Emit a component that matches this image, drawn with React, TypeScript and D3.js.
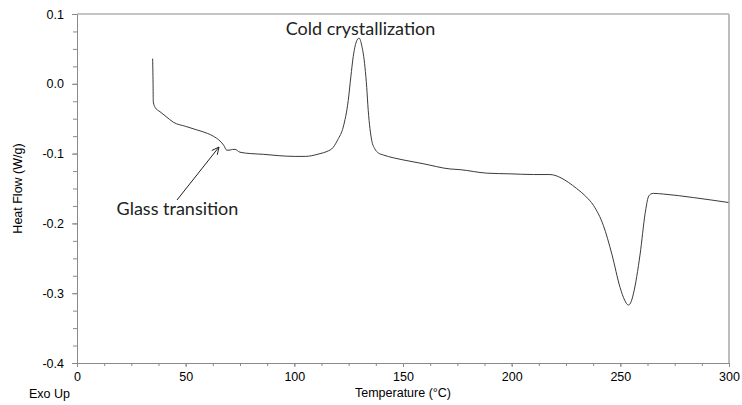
import React, { useEffect, useRef } from 'react';
import * as d3 from 'd3';

// DSC trace (temperature in °C, heat flow in W/g)
const temperature = [
  34.8, 35.0, 35.1, 36.0, 38.2, 41.0, 44.3, 50, 55.1, 60, 62.7, 65.8, 67.5, 68.9,
  70.4, 71.5, 72.7, 75.0, 80, 85.7, 93, 100, 105, 108, 111.8, 115, 117.9, 120,
  122.5, 124.8, 126, 127.1, 128.5, 129.8, 131, 132.5, 133.3, 134.0, 135.6, 137,
  138.6, 141, 145.5, 150, 159.3, 171.6, 176.2, 188.5, 199.2, 210, 217.6, 222.2,
  226, 229.9, 234, 237.6, 242.2, 246.1, 249.9, 252, 253.7, 255, 256.0, 259.1,
  261.4, 262.9, 264, 265.2, 270, 283.6, 299.7,
];
const heatFlow = [
  0.036, 0.0, -0.026, -0.034, -0.040, -0.047, -0.055, -0.061, -0.066, -0.071, -0.075, -0.082, -0.088, -0.095,
  -0.095, -0.094, -0.094, -0.098, -0.100, -0.101, -0.103, -0.104, -0.104, -0.103, -0.100, -0.097, -0.091, -0.080,
  -0.062, -0.024, 0.010, 0.039, 0.060, 0.0655, 0.055, 0.024, -0.005, -0.038, -0.081, -0.093,
  -0.099, -0.102, -0.106, -0.109, -0.1145, -0.122, -0.123, -0.128, -0.129, -0.130, -0.130, -0.134,
  -0.141, -0.150, -0.161, -0.174, -0.203, -0.244, -0.292, -0.310, -0.317, -0.312, -0.301, -0.244,
  -0.186, -0.162, -0.158, -0.157, -0.158, -0.163, -0.170,
];

const xTicks = [0, 50, 100, 150, 200, 250, 300];
const yTicks = [0.1, 0.0, -0.1, -0.2, -0.3, -0.4];

const annotations = [
  { text: 'Cold crystallization', x: 360.5, y: 35 },
  { text: 'Glass transition', x: 177.5, y: 215 },
];

const App: React.FC = () => {
  const svgRef = useRef<SVGSVGElement | null>(null);

  useEffect(() => {
    const svg = d3.select(svgRef.current);
    svg.selectAll('*').remove();

    const x = d3.scaleLinear().domain([0, 300]).range([77, 729]);
    const y = d3.scaleLinear().domain([-0.4, 0.1]).range([363, 14]);
    const axisColor = '#8a8a8a';

    // frame top + right
    svg.append('line')
      .attr('x1', x(0)).attr('x2', x(300))
      .attr('y1', y(0.1)).attr('y2', y(0.1))
      .attr('stroke', axisColor).attr('stroke-width', 1);
    svg.append('line')
      .attr('x1', x(300)).attr('x2', x(300))
      .attr('y1', y(0.1)).attr('y2', y(-0.4))
      .attr('stroke', '#bdbdbd').attr('stroke-width', 2);

    // minor ticks
    svg.append('g')
      .attr('transform', `translate(${x(0)},0)`)
      .call(d3.axisLeft(y).tickValues(d3.range(-0.4, 0.1001, 0.025)).tickSize(4).tickFormat(() => ''))
      .call(g => g.select('.domain').remove())
      .call(g => g.selectAll('line').attr('stroke', axisColor));
    svg.append('g')
      .attr('transform', `translate(0,${y(-0.4)})`)
      .call(d3.axisBottom(x).tickValues(d3.range(0, 300.01, 12.5)).tickSize(3).tickFormat(() => ''))
      .call(g => g.select('.domain').remove())
      .call(g => g.selectAll('line').attr('stroke', axisColor));

    // Y axis
    const yAxis = svg.append('g')
      .attr('transform', `translate(${x(0)},0)`)
      .call(d3.axisLeft(y).tickValues(yTicks).tickSize(5).tickPadding(8).tickSizeOuter(0)
        .tickFormat(d => (+d).toFixed(1)));
    yAxis.select('.domain').attr('stroke', axisColor);
    yAxis.selectAll('line').attr('stroke', axisColor);
    yAxis.selectAll('text')
      .attr('fill', '#000')
      .style('font-family', '"Liberation Sans", Arial, sans-serif')
      .style('font-size', '12.5px');

    // X axis
    const xAxis = svg.append('g')
      .attr('transform', `translate(0,${y(-0.4)})`)
      .call(d3.axisBottom(x).tickValues(xTicks).tickSize(4).tickPadding(5.5).tickSizeOuter(0)
        .tickFormat(d => String(d)));
    xAxis.select('.domain').attr('stroke', axisColor);
    xAxis.selectAll('line').attr('stroke', axisColor);
    xAxis.selectAll('text')
      .attr('fill', '#000')
      .style('font-family', '"Liberation Sans", Arial, sans-serif')
      .style('font-size', '12.5px');

    // axis titles
    const labelFont = '"Liberation Sans", Arial, sans-serif';
    svg.append('text')
      .attr('x', (x(0) + x(300)) / 2).attr('y', 397)
      .attr('text-anchor', 'middle')
      .style('font-family', labelFont).style('font-size', '12.5px')
      .text('Temperature (°C)');
    svg.append('text')
      .attr('x', 29).attr('y', 398)
      .style('font-family', labelFont).style('font-size', '12.5px')
      .text('Exo Up');
    svg.append('text')
      .attr('transform', `translate(22,${(y(0.1) + y(-0.4)) / 2}) rotate(-90)`)
      .attr('text-anchor', 'middle')
      .style('font-family', labelFont).style('font-size', '12.5px')
      .text('Heat Flow (W/g)');

    // curve
    const pts = temperature.map((t, i) => [t, heatFlow[i]] as [number, number]);
    const line = d3.line<[number, number]>()
      .x(d => x(d[0]))
      .y(d => y(d[1]))
      .curve(d3.curveMonotoneX);
    svg.append('path')
      .datum(pts)
      .attr('d', line)
      .attr('fill', 'none')
      .attr('stroke', '#3a3a3a')
      .attr('stroke-width', 1);

    // annotations
    svg.selectAll('.note')
      .data(annotations)
      .join('text')
      .attr('class', 'note')
      .attr('x', d => d.x).attr('y', d => d.y)
      .attr('text-anchor', 'middle')
      .style('font-family', 'Lato, "Open Sans", sans-serif')
      .style('font-size', '18px')
      .attr('fill', '#222')
      .text(d => d.text);

    // arrow to the glass transition step
    const tail = [177, 200];
    const tip = [219, 147];
    svg.append('line')
      .attr('x1', tail[0]).attr('y1', tail[1])
      .attr('x2', tip[0]).attr('y2', tip[1])
      .attr('stroke', '#222').attr('stroke-width', 1);
    const ang = Math.atan2(tip[1] - tail[1], tip[0] - tail[0]);
    const head = 8;
    [-0.45, 0.45].forEach(off => {
      svg.append('line')
        .attr('x1', tip[0]).attr('y1', tip[1])
        .attr('x2', tip[0] - head * Math.cos(ang + off))
        .attr('y2', tip[1] - head * Math.sin(ang + off))
        .attr('stroke', '#222').attr('stroke-width', 1);
    });
  }, []);

  return (
    <svg
      ref={svgRef}
      width={742}
      height={405}
      style={{ position: 'absolute', left: 0, top: 0, background: '#fff' }}
    />
  );
};

export default App;
